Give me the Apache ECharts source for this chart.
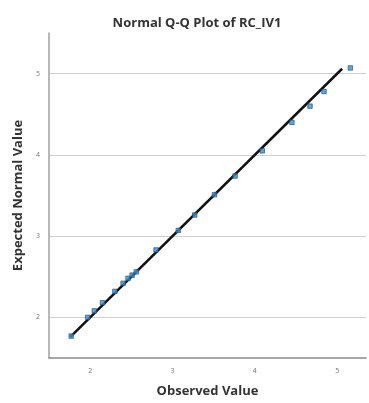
<!DOCTYPE html>
<html>
<head>
<meta charset="utf-8">
<script src="https://cdn.jsdelivr.net/npm/echarts@6/dist/echarts.min.js"></script>
<style>
  html, body {margin: 0; padding: 0; background: #fff;}
  #chart {width: 369px; height: 403px;}
</style>
</head>
<body>
<div id="chart"></div>
<script>
// observed values and their expected normal values
const observed = [1.77, 1.97, 2.05, 2.15, 2.30, 2.40, 2.46, 2.51, 2.56, 2.80, 3.07, 3.27, 3.51, 3.76, 4.09, 4.45, 4.67, 4.84, 5.16];
const expected = [1.77, 2.00, 2.08, 2.18, 2.32, 2.42, 2.48, 2.52, 2.56, 2.83, 3.07, 3.26, 3.51, 3.74, 4.05, 4.40, 4.60, 4.78, 5.07];
const refLine = [1.76, 5.06];
const tickValues = [2, 3, 4, 5];

const chart = echarts.init(document.getElementById('chart'));
const tickFont = {fontSize: 7, color: '#777', fontFamily: 'Open Sans'};
const nameFont = {fontSize: 13, fontWeight: 'bold', color: '#333', fontFamily: 'Open Sans'};
chart.setOption({
  animation: false,
  title: {
    text: 'Normal Q-Q Plot of RC_IV1',
    left: 192,
    top: 12,
    textAlign: 'center',
    textStyle: nameFont
  },
  grid: {left: 49, right: 3, top: 33, bottom: 42},
  xAxis: {
    type: 'value',
    min: 1.5,
    max: 5.35,
    name: 'Observed Value',
    nameLocation: 'middle',
    nameGap: 27,
    nameTextStyle: nameFont,
    axisLine: {show: true, lineStyle: {color: '#8a8a8a', width: 1.5}},
    axisTick: {show: false, customValues: tickValues},
    axisLabel: Object.assign({customValues: tickValues, margin: 9}, tickFont),
    splitLine: {show: false}
  },
  yAxis: {
    type: 'value',
    min: 1.5,
    max: 5.5,
    name: 'Expected Normal Value',
    nameLocation: 'middle',
    nameGap: 21,
    nameTextStyle: nameFont,
    axisLine: {show: true, lineStyle: {color: '#a0a0a0', width: 1.5}},
    axisTick: {show: false, customValues: tickValues},
    axisLabel: Object.assign({customValues: tickValues, margin: 9}, tickFont),
    splitLine: {show: true, lineStyle: {color: '#cfcfcf', width: 1}}
  },
  series: [
    {
      type: 'line',
      data: refLine.map(v => [v, v]),
      symbol: 'none',
      lineStyle: {color: '#111', width: 2.5},
      z: 2
    },
    {
      type: 'scatter',
      data: observed.map((v, i) => [v, expected[i]]),
      symbol: 'rect',
      symbolSize: 4.5,
      itemStyle: {color: '#3b8fd4', borderColor: '#1d4a6e', borderWidth: 0.8},
      z: 3
    }
  ]
});
</script>
</body>
</html>
